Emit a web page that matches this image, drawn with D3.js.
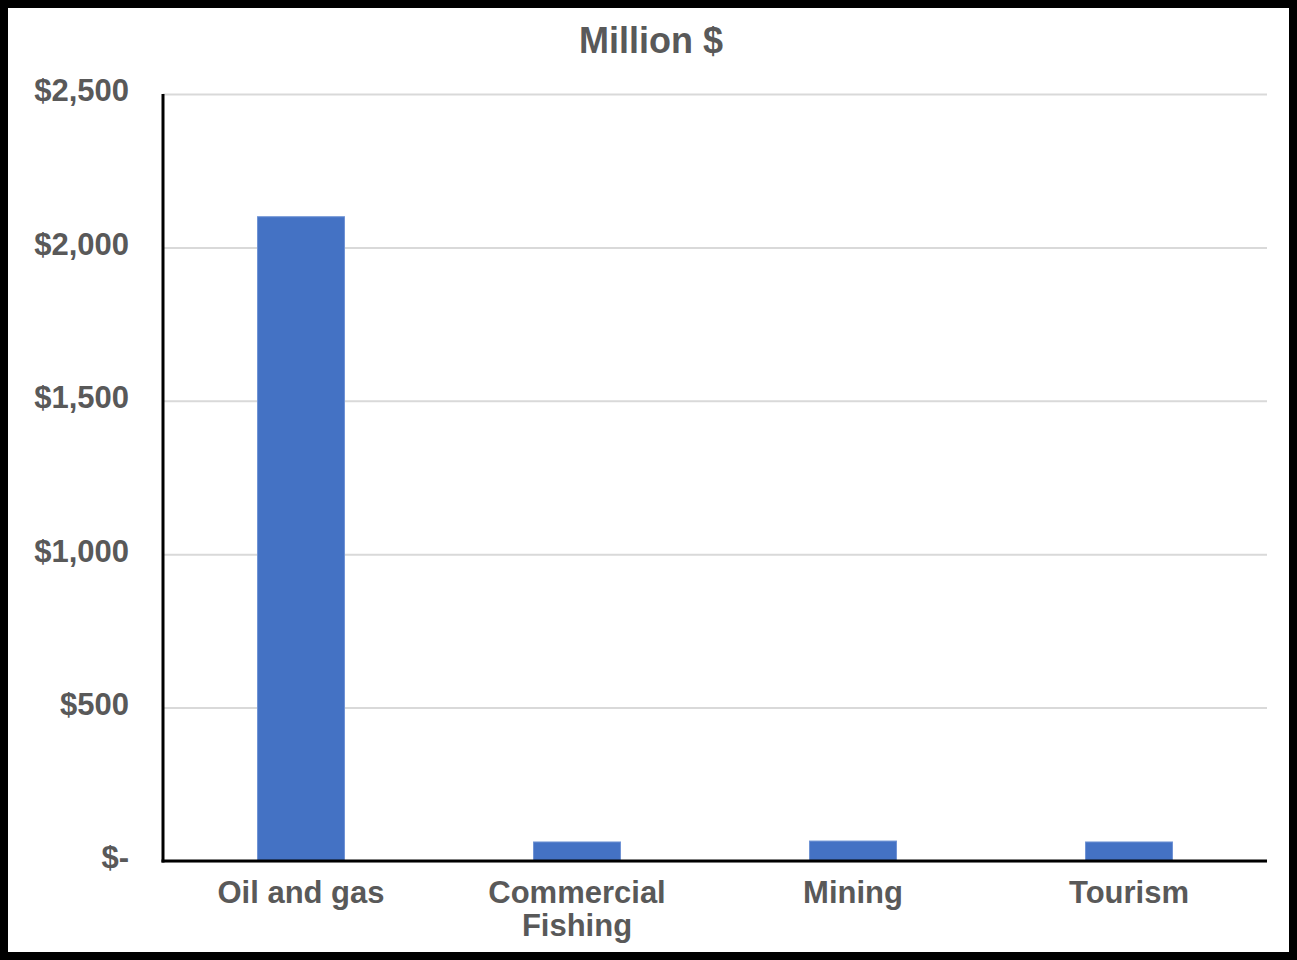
<!DOCTYPE html>
<html>
<head>
<meta charset="utf-8">
<script src="https://cdn.jsdelivr.net/npm/d3@7"></script>
<style>
  html, body { margin: 0; padding: 0; background: #fff; }
  svg { display: block; font-family: "Liberation Sans", Arial, sans-serif; }
  .axis text, .x-label text { fill: #595959; font-weight: bold; font-size: 31px; }
  .title { fill: #595959; font-weight: bold; font-size: 36px; }
  .grid line { stroke: #d9d9d9; stroke-width: 2px; }
  .grid .domain { display: none; }
</style>
</head>
<body>
<div id="chart"></div>
<script>
// Data
var CATEGORIES = [["Oil and gas"], ["Commercial", "Fishing"], ["Mining"], ["Tourism"]];
var VALUES = [2100, 62, 65, 62];
var Y_TICKS = [0, 500, 1000, 1500, 2000, 2500];

var width = 1297;
var height = 960;
var margins = { top: 94, right: 30, bottom: 99, left: 163 };
var chartWidth = width - margins.left - margins.right;
var chartHeight = height - margins.top - margins.bottom;

var svg = d3.select("#chart")
  .append("svg")
  .attr("width", width)
  .attr("height", height);

// outer frame
svg.append("rect")
  .attr("x", 4)
  .attr("y", 4)
  .attr("width", width - 8)
  .attr("height", height - 8)
  .attr("fill", "none")
  .attr("stroke", "#000")
  .attr("stroke-width", 8);

svg.append("text")
  .attr("class", "title")
  .attr("x", 651)
  .attr("y", 53)
  .attr("text-anchor", "middle")
  .text("Million $");

var chart = svg.append("g")
  .attr("transform", "translate(" + margins.left + "," + margins.top + ")");

var xScale = d3.scaleBand()
  .domain(d3.range(CATEGORIES.length))
  .range([0, chartWidth])
  .paddingInner(0.685)
  .paddingOuter(0.3425);

var yScale = d3.scaleLinear()
  .domain([0, 2500])
  .range([chartHeight, 0]);

var fmt = d3.format(",");
var yAxis = d3.axisLeft(yScale)
  .tickValues(Y_TICKS)
  .tickSize(0)
  .tickPadding(34)
  .tickFormat(d => d === 0 ? "$-" : "$" + fmt(d));

// gridlines
chart.append("g")
  .attr("class", "grid")
  .call(d3.axisLeft(yScale).tickValues(Y_TICKS).tickSize(-chartWidth).tickFormat(""));

// bars
chart.selectAll(".bar")
  .data(VALUES)
  .enter()
  .append("rect")
  .attr("class", "bar")
  .attr("x", (d, i) => xScale(i))
  .attr("width", xScale.bandwidth())
  .attr("y", d => yScale(d))
  .attr("height", d => chartHeight - yScale(d))
  .attr("fill", "#4472c4")
  .attr("stroke", "#6f93d4")
  .attr("stroke-width", 1);

// y axis
var yAxisG = chart.append("g")
  .attr("class", "y axis")
  .call(yAxis);
yAxisG.select(".domain").remove();
yAxisG.selectAll("text").attr("dy", "0.22em");

chart.append("line")
  .attr("x1", 0).attr("x2", 0)
  .attr("y1", 0).attr("y2", chartHeight + 1.5)
  .attr("stroke", "#000")
  .attr("stroke-width", 3);

chart.append("line")
  .attr("x1", -1.5).attr("x2", chartWidth)
  .attr("y1", chartHeight).attr("y2", chartHeight)
  .attr("stroke", "#000")
  .attr("stroke-width", 3);

// x labels
var xLabels = chart.append("g")
  .attr("class", "x-label")
  .selectAll("text")
  .data(CATEGORIES)
  .enter()
  .append("text")
  .attr("text-anchor", "middle")
  .attr("x", (d, i) => xScale(i) + xScale.bandwidth() / 2)
  .attr("y", chartHeight + 42);

xLabels.selectAll("tspan")
  .data(d => d)
  .enter()
  .append("tspan")
  .attr("x", function() { return this.parentNode.getAttribute("x"); })
  .attr("dy", (d, i) => i === 0 ? 0 : 33)
  .text(d => d);
</script>
</body>
</html>
